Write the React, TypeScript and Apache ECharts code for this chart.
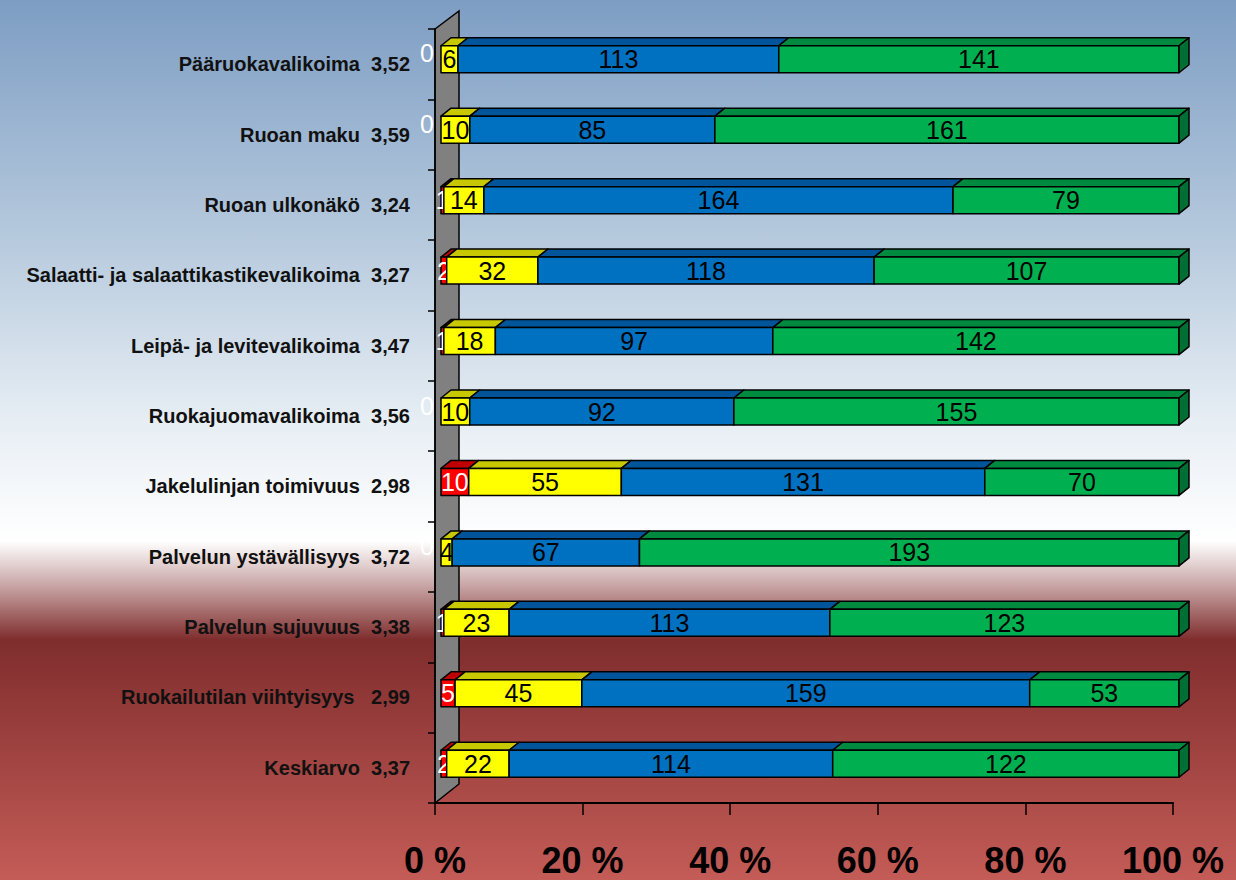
import React, { useEffect, useRef } from "react";
import * as echarts from "echarts";

const categories = [
  "Pääruokavalikoima  3,52",
  "Ruoan maku  3,59",
  "Ruoan ulkonäkö  3,24",
  "Salaatti- ja salaattikastikevalikoima  3,27",
  "Leipä- ja levitevalikoima  3,47",
  "Ruokajuomavalikoima  3,56",
  "Jakelulinjan toimivuus  2,98",
  "Palvelun ystävällisyys  3,72",
  "Palvelun sujuvuus  3,38",
  "Ruokailutilan viihtyisyys   2,99",
  "Keskiarvo  3,37",
];
const redValues = [0, 0, 1, 2, 1, 0, 10, 0, 1, 5, 2];
const yellowValues = [6, 10, 14, 32, 18, 10, 55, 4, 23, 45, 22];
const blueValues = [113, 85, 164, 118, 97, 92, 131, 67, 113, 159, 114];
const greenValues = [141, 161, 79, 107, 142, 155, 70, 193, 123, 53, 122];
const xTickValues = [0, 20, 40, 60, 80, 100];

const seriesValues = [redValues, yellowValues, blueValues, greenValues];
const faceColors = ["#ff0000", "#ffff00", "#0070c0", "#00b050"];
const topColors = ["#c00000", "#c8c800", "#00559a", "#008a40"];
const sideColor = "#006f33";
const labelColors = ["#ffffff", "#000000", "#000000", "#000000"];

const BAR_H = 27;
const DX = 10;
const DY = 8;

function buildData(k: number) {
  return categories.map((_, i) => {
    const total = seriesValues.reduce((s, arr) => s + arr[i], 0);
    let before = 0;
    for (let j = 0; j < k; j++) before += seriesValues[j][i];
    const start = (before / total) * 100;
    const end = ((before + seriesValues[k][i]) / total) * 100;
    return [i, start, end, seriesValues[k][i]];
  });
}

function makeRender(k: number) {
  return (params: any, api: any) => {
    const cat = api.value(0);
    const s = api.value(1);
    const e = api.value(2);
    const v = api.value(3);
    const a = api.coord([s, cat]);
    const b = api.coord([e, cat]);
    const x0 = a[0];
    const x1 = b[0];
    const yc = a[1];
    const yt = yc - BAR_H / 2;
    const yb = yc + BAR_H / 2;
    const children: any[] = [];
    const stroke = { stroke: "#000000", lineWidth: 1.5, lineJoin: "round" };
    if (x1 - x0 > 0.01) {
      children.push({
        type: "polygon",
        shape: { points: [[x0, yt], [x1, yt], [x1 + DX, yt - DY], [x0 + DX, yt - DY]] },
        style: { fill: topColors[k], ...stroke },
      });
      children.push({
        type: "rect",
        shape: { x: x0, y: yt, width: x1 - x0, height: BAR_H },
        style: { fill: faceColors[k], ...stroke },
      });
      if (k === seriesValues.length - 1) {
        children.push({
          type: "polygon",
          shape: { points: [[x1, yt], [x1 + DX, yt - DY], [x1 + DX, yb - DY], [x1, yb]] },
          style: { fill: sideColor, ...stroke },
        });
      }
    }
    const zero = v === 0;
    children.push({
      type: "text",
      z2: 100,
      style: {
        text: String(v),
        x: zero ? x0 - 7 : (x0 + x1) / 2,
        y: zero ? yc - 6 : yc,
        align: zero ? "right" : "center",
        verticalAlign: "middle",
        fill: labelColors[k],
        fontSize: 25,
        fontFamily: "'Liberation Sans', Arial, sans-serif",
      },
    });
    return { type: "group", children };
  };
}

export default function App() {
  const ref = useRef<HTMLDivElement>(null);
  useEffect(() => {
    document.body.style.margin = "0";
    const chart = echarts.init(ref.current!, null, { renderer: "svg" });
    const option: any = {
      animation: false,
      backgroundColor: {
        type: "linear",
        x: 0,
        y: 0,
        x2: 0,
        y2: 1,
        colorStops: [
          { offset: 0, color: "#7d9dc3" },
          { offset: 0.28, color: "#b8cbde" },
          { offset: 0.48, color: "#e7eef4" },
          { offset: 0.615, color: "#ffffff" },
          { offset: 0.665, color: "#c9a6a6" },
          { offset: 0.727, color: "#7f2d2d" },
          { offset: 1, color: "#c45c57" },
        ],
      },
      grid: [
        { left: 435, top: 29, width: 738, height: 774 },
        { left: 441, top: 24, width: 738, height: 775 },
      ],
      xAxis: [
        {
          type: "value",
          gridIndex: 0,
          min: 0,
          max: 100,
          interval: 20,
          splitLine: { show: false },
          axisLine: { show: true, lineStyle: { color: "#000000", width: 2 } },
          axisTick: { show: true, length: 12, lineStyle: { color: "#000000", width: 1.5 } },
          axisLabel: {
            formatter: (val: number) => (xTickValues.includes(val) ? `${val} %` : ""),
            fontSize: 36,
            fontWeight: "bold",
            color: "#000000",
            margin: 39,
            fontFamily: "'Liberation Sans', Arial, sans-serif",
          },
        },
        { type: "value", gridIndex: 1, min: 0, max: 100, show: false },
      ],
      yAxis: [
        {
          type: "category",
          gridIndex: 0,
          data: categories,
          inverse: true,
          axisLine: { show: true, lineStyle: { color: "#000000", width: 1.5 } },
          axisTick: { show: true, length: 7, lineStyle: { color: "#000000", width: 1.5 } },
          axisLabel: {
            fontSize: 20,
            fontWeight: "bold",
            color: "#111111",
            margin: 25,
            fontFamily: "'Liberation Sans', Arial, sans-serif",
          },
        },
        { type: "category", gridIndex: 1, data: categories, inverse: true, show: false },
      ],
      graphic: [
        {
          type: "polygon",
          z: -5,
          shape: { points: [[435, 29], [459, 11], [459, 784], [435, 803]] },
          style: { fill: "#808080", stroke: "#000000", lineWidth: 1.5 },
        },
      ],
      series: seriesValues.map((_, k) => ({
        type: "custom",
        xAxisIndex: 1,
        yAxisIndex: 1,
        renderItem: makeRender(k),
        encode: { x: [1, 2], y: 0 },
        data: buildData(k),
        z: 2 + k,
      })),
    };
    chart.setOption(option);
    return () => chart.dispose();
  }, []);
  return <div ref={ref} style={{ width: 1236, height: 880 }} />;
}
